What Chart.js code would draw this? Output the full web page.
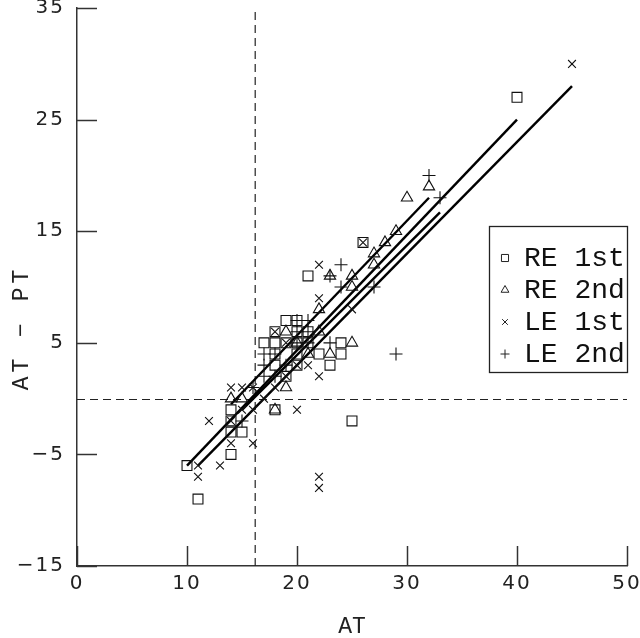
<!DOCTYPE html>
<html><head><meta charset="utf-8">
<script src="https://cdn.jsdelivr.net/npm/chart.js@4"></script>
<style>html,body{margin:0;padding:0;background:#fff}canvas{display:block}</style>
</head><body>
<canvas id="c" width="640" height="638"></canvas>
<script>
const xTicks=[0,10,20,30,40,50];
const yTicks=[-15,-5,5,15,25,35];
const xTitle='AT';
const yTitle='AT \u2212 PT';
const seriesNames=["RE 1st","RE 2nd","LE 1st","LE 2nd"];
const re1st=[[10,-6],[11,-9],[14,-1],[14,-2],[14,-3],[14,-5],[15,-3],[17,5],[18,6],[18,5],[18,4],[18,3],[18,-1],[19,7],[19,5],[19,2],[20,7],[20,6],[20,5],[20,4],[20,3],[21,6],[21,5],[21,11],[22,4],[23,3],[24,5],[24,4],[25,-2],[26,14],[40,27]];
const re2nd=[[14,0],[15,0],[18,-1],[19,1],[19,6],[20,5],[21,4],[22,6],[22,8],[23,4],[23,11],[25,5],[25,10],[25,11],[27,12],[27,13],[28,14],[29,15],[30,18],[32,19]];
const le1st=[[11,-6],[11,-7],[12,-2],[13,-6],[14,1],[14,-2],[14,-4],[15,1],[15,-1],[16,1],[16,-1],[16,-4],[17,0],[18,1],[18,6],[19,5],[19,2],[20,3],[20,-1],[21,3],[22,2],[22,-7],[22,-8],[22,9],[22,12],[25,8],[26,14],[45,30]];
const le2nd=[[15,-2],[16,1],[17,4],[17,3],[17,2],[18,4],[18,2],[19,3],[20,7],[20,6],[20,5],[21,7],[21,6],[21,5],[23,5],[23,11],[24,10],[24,12],[27,10],[29,4],[32,20],[33,18]];
const fitRE1=[[10,-6],[40,25]];
const fitLE1=[[11,-6],[45,28]];
const fitRE2=[[14,-0.5],[32,18]];
const fitLE2=[[15,-1],[33,16.7]];
const refX=16.2, refY=0;

const pts=a=>a.map(p=>({x:p[0],y:p[1]}));
const styles=['rect','triangle','crossRot','cross'];
const radii=[7,6.5,5.5,6.5];
const scatter=[re1st,re2nd,le1st,le2nd].map((d,i)=>({
  type:'scatter',label:seriesNames[i],data:pts(d),pointStyle:styles[i],pointRadius:radii[i],
  pointBorderColor:'#111',pointBackgroundColor:'rgba(0,0,0,0)',pointBorderWidth:1.1,showLine:false
}));
const fits=[fitRE1,fitLE1,fitRE2,fitLE2].map(d=>({
  type:'line',label:'fit',data:pts(d),borderColor:'#000',borderWidth:2.4,pointRadius:0,fill:false
}));

const AXC='#333';
const MONO='"Liberation Mono", monospace';
const deco={
  id:'deco',
  beforeInit(ch){ch.ctx.letterSpacing='2px';},
  beforeDraw(ch){ch.ctx.letterSpacing='2px';},
  beforeDatasetsDraw(ch){
    const {ctx,scales:{x,y}}=ch;
    ctx.save();
    ctx.strokeStyle='#222';ctx.lineWidth=1.2;ctx.setLineDash([8,5]);
    const px=x.getPixelForValue(refX), py=Math.round(y.getPixelForValue(refY))+0.5;
    ctx.beginPath();ctx.moveTo(px,y.getPixelForValue(-15));ctx.lineTo(px,y.getPixelForValue(35));ctx.stroke();
    ctx.beginPath();ctx.moveTo(x.getPixelForValue(0),py);ctx.lineTo(x.getPixelForValue(50),py);ctx.stroke();
    ctx.setLineDash([]);
    ctx.strokeStyle=AXC;ctx.lineWidth=1.5;
    const L=x.getPixelForValue(0), B=y.getPixelForValue(-15);
    yTicks.forEach(v=>{const p=Math.round(y.getPixelForValue(v))+0.5;ctx.beginPath();ctx.moveTo(L,p);ctx.lineTo(L+20,p);ctx.stroke();});
    xTicks.forEach(v=>{const p=Math.round(x.getPixelForValue(v))+0.5;ctx.beginPath();ctx.moveTo(p,B);ctx.lineTo(p,B-20);ctx.stroke();});
    ctx.restore();
  },
  afterDraw(ch){
    const {ctx,scales:{x,y}}=ch;
    ctx.save();
    ctx.letterSpacing='0px';
    ctx.fillStyle='#222';ctx.font='23px '+MONO;ctx.textAlign='center';ctx.textBaseline='middle';
    ctx.fillText(xTitle,(x.left+x.right)/2,627);
    ctx.translate(22,328);ctx.rotate(-Math.PI/2);
    ctx.letterSpacing='4px';
    ctx.fillText(yTitle,0,0);
    ctx.restore();
    const bx=489,by=226,bw=138,bh=146;
    const rows=[258,290,322,354];
    ctx.save();
    ctx.letterSpacing='0px';
    ctx.font='28px '+MONO;ctx.fillStyle='#111';ctx.textBaseline='middle';ctx.textAlign='left';
    ctx.beginPath();ctx.rect(bx,by,bw,bh);ctx.clip();
    rows.forEach((ry,i)=>{ctx.fillText(seriesNames[i],524,ry+1);});
    ctx.restore();
    ctx.save();
    ctx.strokeStyle='#222';ctx.lineWidth=1.3;
    ctx.strokeRect(bx+0.5,by+0.5,bw,bh);
    ctx.lineWidth=1;ctx.fillStyle='rgba(0,0,0,0)';
    rows.forEach((ry,i)=>{
      Chart.helpers.drawPoint(ctx,{pointStyle:styles[i],radius:[5,4.5,4,4.5][i],borderWidth:1},505,ry);
    });
    ctx.restore();
  }
};

new Chart(document.getElementById('c'),{
  data:{datasets:[...scatter,...fits]},
  plugins:[deco],
  options:{
    responsive:false,animation:false,
    layout:{padding:{top:6,right:13,left:0,bottom:0}},
    plugins:{legend:{display:false},tooltip:{enabled:false}},
    scales:{
      x:{type:'linear',min:0,max:50,
        afterBuildTicks:s=>{s.ticks=xTicks.map(v=>({value:v}));},
        afterFit:s=>{s.height=72;s.paddingLeft=0;s.paddingRight=0;},
        grid:{display:false,drawTicks:false},border:{display:true,color:AXC,width:1.5},
        ticks:{color:'#222',font:{family:'"DejaVu Sans"',size:20},padding:6,maxRotation:0,autoSkip:false},
        title:{display:false}
      },
      y:{type:'linear',min:-15,max:35,
        afterBuildTicks:s=>{s.ticks=yTicks.map(v=>({value:v}));},
        afterFit:s=>{s.width=77;s.paddingTop=0;s.paddingBottom=0;},
        grid:{display:false,drawTicks:false},border:{display:true,color:AXC,width:1.5},
        ticks:{color:'#222',font:{family:'"DejaVu Sans"',size:20},padding:12,autoSkip:false,
          callback:v=>String(v).replace('-','\u2212')},
        title:{display:false}
      }
    }
  }
});
</script>
</body></html>
